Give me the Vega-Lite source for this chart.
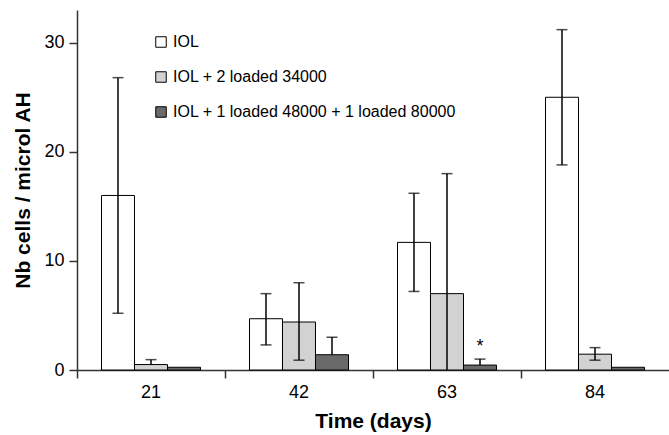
{
  "$schema": "https://vega.github.io/schema/vega-lite/v6.json",
  "autosize": "none",
  "padding": {"left": 77, "top": 10, "right": 0, "bottom": 65},
  "width": 592,
  "height": 360,
  "background": "white",
  "config": {
    "view": {"stroke": null},
    "font": "Liberation Sans",
    "axis": {"labelFont": "Liberation Sans", "titleFont": "Liberation Sans", "labelColor": "black", "titleColor": "black", "domainColor": "#333333", "tickColor": "#333333", "domainWidth": 1.5, "tickWidth": 1.5}
  },
  "data": {
    "values": [
      {"day": "21", "series": "IOL", "value": 16.0, "lo": 5.2, "hi": 26.8, "note": null},
      {"day": "21", "series": "IOL + 2 loaded 34000", "value": 0.5, "lo": 0.5, "hi": 0.95, "note": null},
      {"day": "21", "series": "IOL + 1 loaded 48000 + 1 loaded 80000", "value": 0.25, "lo": null, "hi": null, "note": null},
      {"day": "42", "series": "IOL", "value": 4.7, "lo": 2.3, "hi": 7.0, "note": null},
      {"day": "42", "series": "IOL + 2 loaded 34000", "value": 4.4, "lo": 0.9, "hi": 8.0, "note": null},
      {"day": "42", "series": "IOL + 1 loaded 48000 + 1 loaded 80000", "value": 1.4, "lo": 1.4, "hi": 3.0, "note": null},
      {"day": "63", "series": "IOL", "value": 11.7, "lo": 7.2, "hi": 16.2, "note": null},
      {"day": "63", "series": "IOL + 2 loaded 34000", "value": 7.0, "lo": 0, "hi": 18.0, "note": null},
      {"day": "63", "series": "IOL + 1 loaded 48000 + 1 loaded 80000", "value": 0.45, "lo": 0.45, "hi": 1.0, "note": "*"},
      {"day": "84", "series": "IOL", "value": 25.0, "lo": 18.8, "hi": 31.2, "note": null},
      {"day": "84", "series": "IOL + 2 loaded 34000", "value": 1.45, "lo": 0.9, "hi": 2.05, "note": null},
      {"day": "84", "series": "IOL + 1 loaded 48000 + 1 loaded 80000", "value": 0.25, "lo": null, "hi": null, "note": null}
    ]
  },
  "encoding": {
    "x": {
      "field": "day", "type": "nominal", "sort": null,
      "scale": {"paddingInner": 0, "paddingOuter": 0},
      "axis": {"title": "Time (days)", "labelAngle": 0, "labelFontSize": 18, "titleFontSize": 21, "titleFontWeight": "bold", "tickSize": 8, "labelPadding": 5, "titlePadding": 9, "bandPosition": 0}
    },
    "xOffset": {
      "field": "series", "type": "nominal", "sort": null,
      "scale": {"paddingInner": 0, "paddingOuter": 0.742}
    }
  },
  "layer": [
    {
      "mark": {"type": "bar", "stroke": "black", "strokeWidth": 1},
      "encoding": {
        "y": {
          "field": "value", "type": "quantitative",
          "scale": {"domain": [0, 33], "nice": false},
          "axis": {"title": "Nb cells / microl AH", "values": [0, 10, 20, 30], "grid": false, "labelFontSize": 18, "titleFontSize": 21, "titleFontWeight": "bold", "tickSize": 8, "labelPadding": 5, "titlePadding": 10}
        },
        "fill": {
          "field": "series", "type": "nominal", "sort": null,
          "scale": {"range": ["#ffffff", "#d2d2d2", "#6a6a6a"]},
          "legend": {
            "title": null, "orient": "none", "legendX": 76, "legendY": 24,
            "symbolType": "square", "symbolSize": 110, "symbolStrokeColor": "black", "symbolStrokeWidth": 1,
            "labelFontSize": 16, "labelColor": "black", "labelFont": "Liberation Sans", "labelOffset": 4, "rowPadding": 19, "labelLimit": 400
          }
        }
      }
    },
    {
      "transform": [{"filter": "datum.hi != null"}],
      "mark": {"type": "rule", "color": "black", "strokeWidth": 1.5},
      "encoding": {"y": {"field": "lo", "type": "quantitative"}, "y2": {"field": "hi"}}
    },
    {
      "transform": [{"filter": "datum.hi != null"}],
      "mark": {"type": "tick", "color": "black", "thickness": 1.5, "size": 11, "orient": "horizontal"},
      "encoding": {"y": {"field": "hi", "type": "quantitative"}}
    },
    {
      "transform": [{"filter": "datum.hi != null && datum.lo < datum.value && datum.lo > 0"}],
      "mark": {"type": "tick", "color": "black", "thickness": 1.5, "size": 11, "orient": "horizontal"},
      "encoding": {"y": {"field": "lo", "type": "quantitative"}}
    },
    {
      "transform": [{"filter": "datum.note != null"}],
      "mark": {"type": "text", "fontSize": 18, "font": "Liberation Sans", "color": "black", "baseline": "middle", "dy": -12},
      "encoding": {"y": {"field": "hi", "type": "quantitative"}, "text": {"field": "note"}}
    }
  ]
}
